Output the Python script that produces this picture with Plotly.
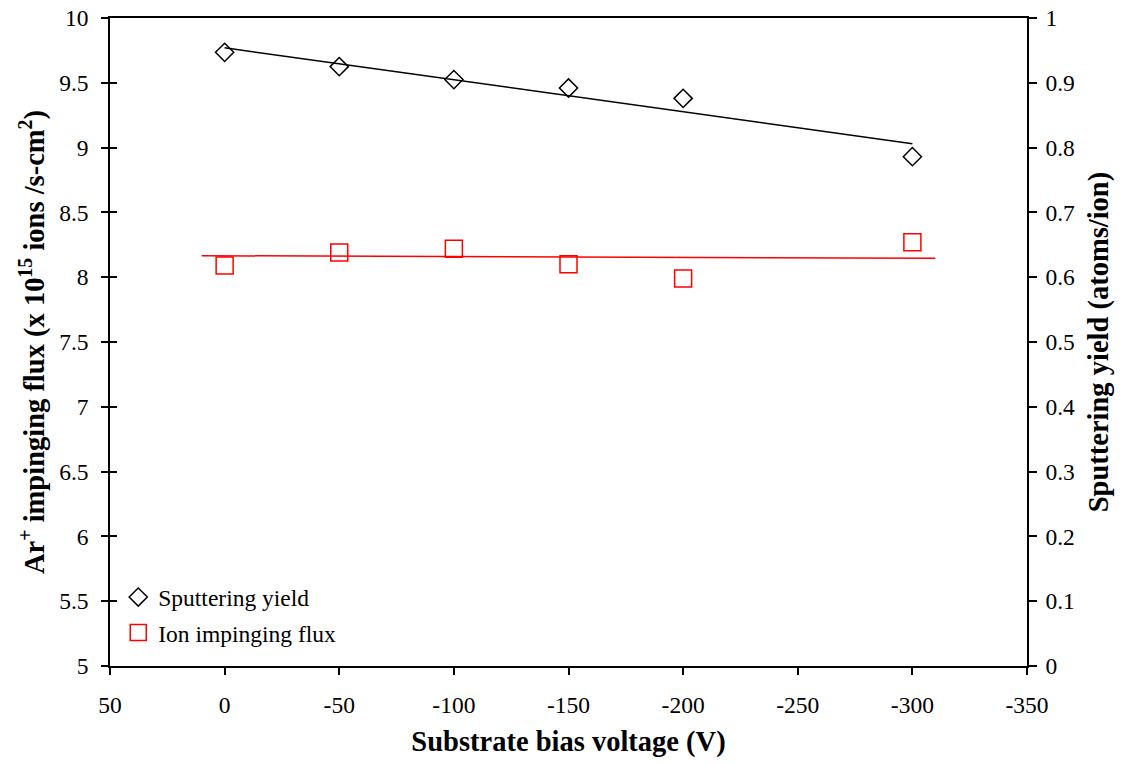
import plotly.graph_objects as go

# Data
bias_v = [0, -50, -100, -150, -200, -300]
sputter_yield = [0.947, 0.925, 0.905, 0.892, 0.876, 0.786]   # right axis (atoms/ion)
ion_flux = [8.09, 8.19, 8.22, 8.10, 7.99, 8.27]              # left axis (x1e15 ions/s-cm2)

# Linear trendline end points
yield_trend_x = [0, -300]
yield_trend_y = [0.954, 0.806]
flux_trend_x = [10, -310]
flux_trend_y = [8.166, 8.146]

x_ticks = [50, 0, -50, -100, -150, -200, -250, -300, -350]

FONT = "Liberation Serif, Times New Roman, serif"
TICK_SIZE = 23.5
TITLE_SIZE = 28.5

fig = go.Figure()

fig.add_trace(go.Scatter(
    x=yield_trend_x, y=yield_trend_y, mode="lines", yaxis="y2",
    line=dict(color="black", width=1.5), showlegend=False, hoverinfo="skip"))
fig.add_trace(go.Scatter(
    x=flux_trend_x, y=flux_trend_y, mode="lines",
    line=dict(color="#FF0000", width=1.5), showlegend=False, hoverinfo="skip"))

fig.add_trace(go.Scatter(
    x=bias_v, y=sputter_yield, mode="markers", yaxis="y2", name="Sputtering yield",
    legendgroup="a",
    marker=dict(symbol="diamond-open", size=14, color="black", line=dict(width=1.5, color="black"))))
fig.add_trace(go.Scatter(
    x=bias_v, y=ion_flux, mode="markers", name="Ion impinging flux",
    legendgroup="b",
    marker=dict(symbol="square-open", size=17, color="#FF0000", line=dict(width=1.5, color="#FF0000"))))

# invisible trace to activate crossing-tick overlay axis
fig.add_trace(go.Scatter(x=[None], y=[None], yaxis="y3", showlegend=False, hoverinfo="skip"))

fig.update_layout(
    width=1127, height=765,
    margin=dict(l=110, r=100, t=18, b=99, autoexpand=False),
    paper_bgcolor="white", plot_bgcolor="white",
    font=dict(family=FONT, size=TICK_SIZE, color="black"),
    showlegend=True,
    legend=dict(x=0.009, y=0.14, xanchor="left", yanchor="top",
                bgcolor="rgba(0,0,0,0)", font=dict(family=FONT, size=23.5),
                traceorder="grouped", tracegroupgap=2,
                itemwidth=30),
    xaxis=dict(
        range=[50, -350], tickmode="array", tickvals=x_ticks,
        ticktext=[str(v) for v in x_ticks],
        showgrid=False, zeroline=False, automargin=False,
        showline=True, linecolor="black", linewidth=1.5, mirror=True,
        ticks="outside", ticklen=7, tickcolor="black", tickwidth=1.5,
        ticklabelstandoff=10,
        title=dict(text="<b>Substrate bias voltage (V)</b>", font=dict(family=FONT, size=TITLE_SIZE), standoff=14),
    ),
    yaxis=dict(
        range=[5, 10], dtick=0.5, tick0=5,
        showgrid=False, zeroline=False, automargin=False,
        showline=True, linecolor="black", linewidth=1.5,
        ticks="outside", ticklen=7, tickcolor="black", tickwidth=1.5,
        ticklabelstandoff=8,
        title=dict(text="<b>Ar<sup>+</sup> impinging flux (x 10<sup>15</sup> ions /s-cm<sup>2</sup>)</b>",
                   font=dict(family=FONT, size=TITLE_SIZE), standoff=6),
    ),
    yaxis2=dict(
        range=[0, 1], dtick=0.1, tick0=0, overlaying="y", side="right",
        showgrid=False, zeroline=False, automargin=False,
        showline=True, linecolor="black", linewidth=1.5,
        ticks="outside", ticklen=8, tickcolor="black", tickwidth=1.5,
        ticklabelstandoff=4,
        title=dict(text="<b>Sputtering yield (atoms/ion)</b>", font=dict(family=FONT, size=TITLE_SIZE), standoff=14),
    ),
    yaxis3=dict(
        range=[5, 10], dtick=0.5, tick0=5, overlaying="y", side="left",
        showgrid=False, zeroline=False, showline=False, automargin=False,
        ticks="inside", ticklen=7, tickcolor="black", tickwidth=1.5,
        showticklabels=False,
    ),
)

fig.write_html("out.html")
